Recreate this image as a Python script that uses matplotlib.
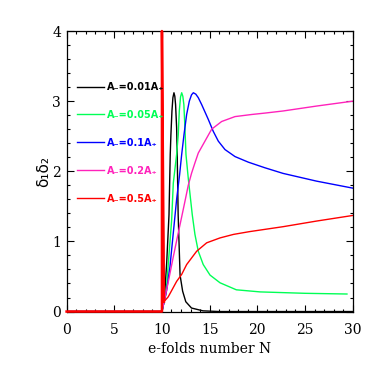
# delta1*delta2 vs e-folds number
import numpy as np
import matplotlib
matplotlib.use('Agg')
import matplotlib.pyplot as plt
from matplotlib.ticker import MultipleLocator

plt.rcParams['font.family'] = ['DejaVu Serif']

# curves: N values and delta1*delta2
n_black = [0, 10, 10.24, 10.5, 10.74, 10.87, 10.94, 11.05, 11.15, 11.26, 11.35, 11.43, 11.54, 11.6, 11.7, 11.9, 12.17, 12.5, 13.1, 14.3, 16, 30]
d_black = [0, 0, 0.15, 0.7, 1.38, 2.24, 2.52, 2.86, 3.05, 3.12, 3.07, 2.95, 2.62, 2.24, 1.38, 0.52, 0.29, 0.14, 0.05, 0.01, 0, 0]

n_green = [0, 10, 10.24, 10.42, 11.02, 11.19, 11.54, 11.71, 11.82, 11.95, 12.07, 12.19, 12.3, 12.41, 12.52, 12.76, 13.18, 13.46, 13.81, 14.33, 15.04, 16.09, 17.8, 20.3, 25, 29.4]
d_green = [0, 0, 0.15, 0.24, 1.31, 1.83, 2.24, 2.52, 2.86, 3.06, 3.12, 3.07, 2.95, 2.62, 2.24, 1.9, 1.38, 1.1, 0.86, 0.67, 0.52, 0.41, 0.31, 0.28, 0.26, 0.25]

n_blue = [0, 10, 10.24, 10.49, 10.84, 11.19, 11.54, 11.85, 12.07, 12.31, 12.59, 12.87, 13.1, 13.29, 13.55, 13.81, 14.17, 14.86, 15.38, 15.91, 16.61, 17.66, 19.06, 20.8, 22.7, 26.2, 30]
d_blue = [0, 0, 0.15, 0.3, 0.64, 1.12, 1.6, 1.95, 2.24, 2.52, 2.81, 3.0, 3.09, 3.12, 3.1, 3.05, 2.95, 2.74, 2.57, 2.43, 2.31, 2.21, 2.13, 2.05, 1.97, 1.86, 1.76]

n_pink = [0, 10, 10.24, 10.66, 11.19, 11.6, 12.07, 12.41, 12.76, 13.1, 13.46, 13.81, 14.51, 15.21, 16.26, 17.66, 19.41, 20.8, 22.7, 26.2, 30]
d_pink = [0, 0, 0.15, 0.42, 0.78, 1.05, 1.35, 1.57, 1.8, 1.97, 2.12, 2.26, 2.43, 2.6, 2.71, 2.78, 2.81, 2.83, 2.86, 2.93, 3.0]

n_red = [0, 10, 10, 10.21, 10.66, 11.54, 12.07, 12.59, 13.64, 14.69, 16.09, 17.5, 19.2, 22.7, 26.2, 30]
d_red = [0, 0, 4.0, 0.14, 0.21, 0.43, 0.53, 0.67, 0.86, 0.98, 1.05, 1.1, 1.14, 1.21, 1.29, 1.37]

labels = ['A\u208b=0.01A\u208a', 'A\u208b=0.05A\u208a', 'A\u208b=0.1A\u208a',
          'A\u208b=0.2A\u208a', 'A\u208b=0.5A\u208a']
colors = ['black', '#00ff55', '#0000ff', '#ff22bb', '#ff0000']

fig = plt.figure(figsize=(3.74, 3.74), dpi=100)
ax = fig.add_axes([0.178, 0.167, 0.765, 0.750])

series = [(n_black, d_black), (n_green, d_green), (n_blue, d_blue),
          (n_pink, d_pink), (n_red, d_red)]
for (n, d), c, lab in zip(series, colors, labels):
    ax.plot(n, d, color=c, lw=1.0, label=lab)
# thick red jump at N=10 (sits on the frame, so not clipped)
ax.plot(n_red[:4], d_red[:4], color=colors[-1], lw=1.8, clip_on=False, zorder=5)

ax.set_xlim(0, 30)
ax.set_ylim(0, 4)
ax.xaxis.set_major_locator(MultipleLocator(5))
ax.xaxis.set_minor_locator(MultipleLocator(1))
ax.yaxis.set_major_locator(MultipleLocator(1))
ax.yaxis.set_minor_locator(MultipleLocator(0.2))
ax.tick_params(which='both', direction='in', top=True, right=True, width=0.8)
ax.tick_params(which='major', length=5, labelsize=10)
ax.tick_params(which='minor', length=2.5)
ax.tick_params(axis='x', pad=8)
ax.tick_params(axis='y', pad=4)
for s in ax.spines.values():
    s.set_linewidth(0.9)

ax.set_xlabel('e-folds number N', fontsize=10)
ax.set_ylabel('\u03b4\u2081\u03b4\u2082', fontsize=11, labelpad=1,
              family='DejaVu Sans')

leg = ax.legend(loc='upper left', bbox_to_anchor=(0.02, 0.836), frameon=False,
                prop={'family': 'DejaVu Sans', 'weight': 'bold', 'size': 7},
                handlelength=2.8, handletextpad=0.3,
                labelspacing=1.85, borderpad=0, labelcolor='linecolor')

fig.savefig('out.png', dpi=100)
